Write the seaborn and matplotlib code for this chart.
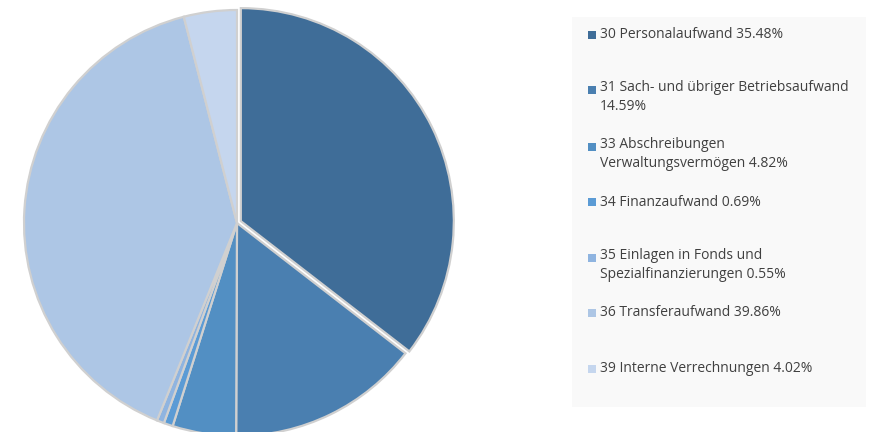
import matplotlib
matplotlib.use('Agg')
import matplotlib.pyplot as plt
import seaborn as sns
from matplotlib.patches import Rectangle

sns.set_theme(style='white')
plt.rcParams['font.family'] = ['Open Sans', 'DejaVu Sans']

# Data
codes = ['30', '31', '33', '34', '35', '36', '39']
names = ['Personalaufwand', 'Sach- und übriger Betriebsaufwand',
         'Abschreibungen Verwaltungsvermögen', 'Finanzaufwand',
         'Einlagen in Fonds und Spezialfinanzierungen', 'Transferaufwand',
         'Interne Verrechnungen']
shares = [35.48, 14.59, 4.82, 0.69, 0.55, 39.86, 4.02]
colors = ['#3F6D98', '#4A7FB0', '#528FC3', '#5B9BD5', '#8FB4E0', '#ADC6E5', '#C5D6EE']
# legend text as shown (long entries wrapped like in the original)
legend_lines = ['30 Personalaufwand 35.48%',
                '31 Sach- und übriger Betriebsaufwand\n14.59%',
                '33 Abschreibungen\nVerwaltungsvermögen 4.82%',
                '34 Finanzaufwand 0.69%',
                '35 Einlagen in Fonds und\nSpezialfinanzierungen 0.55%',
                '36 Transferaufwand 39.86%',
                '39 Interne Verrechnungen 4.02%']

W, H = 872, 432
fig = plt.figure(figsize=(W / 100, H / 100), dpi=100)
fig.patch.set_facecolor('white')

# pie axes spanning the whole figure; 1 data unit = R px
cx, cy, R = 237, 223, 213
ax = fig.add_axes([0, 0, 1, 1])
ax.pie(shares, colors=colors, startangle=90, counterclock=False,
       explode=[0.02, 0, 0, 0, 0, 0, 0],
       wedgeprops=dict(edgecolor='#D0D0D0', linewidth=1.6))
ax.set_xlim(-cx / R, (W - cx) / R)
ax.set_ylim(-(H - cy) / R, cy / R)
ax.set_aspect('equal')
ax.axis('off')

# legend panel
fig.patches.append(Rectangle((572 / W, 1 - 407 / H), (866 - 572) / W, (407 - 17) / H,
                             transform=fig.transFigure, facecolor='#F9F9F9',
                             edgecolor='none', zorder=0))
row_y = [35, 90, 147, 202, 258, 313, 369]
for y, lab, col in zip(row_y, legend_lines, colors):
    fig.patches.append(Rectangle((588 / W, 1 - (y + 4) / H), 8 / W, 8 / H,
                                 transform=fig.transFigure, facecolor=col,
                                 edgecolor='none', zorder=2))
    if '\n' in lab:
        fig.text(600 / W, 1 - (y - 10) / H, lab, ha='left', va='top',
                 fontsize=10, color='#404040', linespacing=1.4)
    else:
        fig.text(600 / W, 1 - y / H, lab, ha='left', va='center',
                 fontsize=10, color='#404040')

fig.savefig('out.png', dpi=100, facecolor='white')
